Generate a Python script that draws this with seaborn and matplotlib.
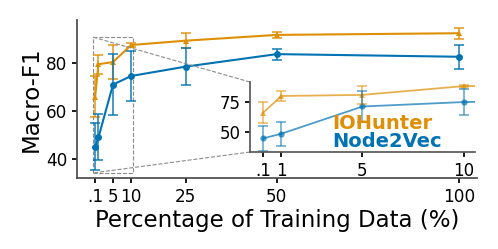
import matplotlib
matplotlib.use("Agg")
import matplotlib.pyplot as plt
import seaborn as sns
import pandas as pd
from mpl_toolkits.axes_grid1.inset_locator import mark_inset

x_pct = [0.1, 1, 5, 10, 25, 50, 100]
iohunter_mean = [66.0, 79.5, 80.4, 87.5, 89.3, 91.7, 92.4]
iohunter_err = [8.5, 4.0, 7.0, 0.8, 3.0, 1.2, 2.2]
node2vec_mean = [45.2, 49.0, 71.0, 74.6, 78.5, 83.7, 82.6]
node2vec_err = [9.8, 9.6, 12.8, 10.6, 7.6, 2.3, 5.1]

main_ticks = [0.1, 5, 10, 25, 50, 100]
main_ticklabels = ['.1', '5', '10', '25', '50', '100']
inset_ticks = [0.1, 1, 5, 10]
inset_ticklabels = ['.1', '1', '5', '10']
inset_yticks = [50, 75]

c_io = '#DE8F05'
c_nv = '#0173B2'

sns.set_theme(style='ticks')
plt.rcParams['font.family'] = ['DejaVu Sans']
plt.rcParams['text.color'] = 'black'
plt.rcParams['axes.labelcolor'] = 'black'
plt.rcParams['xtick.color'] = 'black'
plt.rcParams['ytick.color'] = 'black'

df = pd.concat([
    pd.DataFrame({'x': x_pct, 'y': iohunter_mean, 'model': 'IOHunter'}),
    pd.DataFrame({'x': x_pct, 'y': node2vec_mean, 'model': 'Node2Vec'}),
])

fig = plt.figure(figsize=(4.98, 2.49), dpi=100)
ax = fig.add_axes([0.1546, 0.2851, 0.8032, 0.6345])

def draw(a, alpha, lw, ms):
    sns.lineplot(data=df, x='x', y='y', hue='model', style='model',
                 palette={'IOHunter': c_io, 'Node2Vec': c_nv},
                 markers={'IOHunter': '^', 'Node2Vec': 'o'}, dashes=False,
                 markersize=ms, linewidth=lw, alpha=alpha, markeredgewidth=0,
                 legend=False, ax=a)
    a.errorbar(x_pct, iohunter_mean, yerr=iohunter_err, fmt='none', ecolor=c_io,
               elinewidth=1.2, capsize=3.5, capthick=1.2, alpha=alpha * 0.85)
    a.errorbar(x_pct, node2vec_mean, yerr=node2vec_err, fmt='none', ecolor=c_nv,
               elinewidth=1.2, capsize=3.5, capthick=1.2, alpha=alpha * 0.85)

draw(ax, 1.0, 1.5, 5)
ax.set_xticks(main_ticks)
ax.set_xticklabels(main_ticklabels)
ax.set_yticks([40, 60, 80])
ax.tick_params(labelsize=12.2, length=3.5, colors='black')
ax.set_xlabel('Percentage of Training Data (%)', fontsize=16.5, labelpad=2, color='black')
ax.set_ylabel('Macro-F1', fontsize=16.5, labelpad=2, color='black')
ax.set_ylim(32.1, 97.9)
sns.despine(ax=ax)
for s in ['left', 'bottom']:
    ax.spines[s].set_color('0.3')

axins = fig.add_axes([0.502, 0.3896, 0.4518, 0.281])
draw(axins, 0.7, 1.3, 4.5)
axins.set_xlim(-0.55, 10.55)
axins.set_ylim(34.2, 90.8)
axins.set_xticks(inset_ticks)
axins.set_xticklabels(inset_ticklabels)
axins.set_yticks(inset_yticks)
axins.tick_params(labelsize=12, length=3.5, colors='black')
axins.set_xlabel('')
axins.set_ylabel('')
axins.patch.set_alpha(0)
sns.despine(ax=axins)
for s in ['left', 'bottom']:
    axins.spines[s].set_color('0.35')

mark_inset(ax, axins, loc1=2, loc2=3, fc='none', ec='0.55', ls='--', lw=0.8)

fig.text(0.667, 0.506, 'IOHunter', color=c_io, fontsize=14, fontweight='bold', va='center', ha='left')
fig.text(0.667, 0.430, 'Node2Vec', color=c_nv, fontsize=14, fontweight='bold', va='center', ha='left')

fig.savefig('out.png', dpi=100)
